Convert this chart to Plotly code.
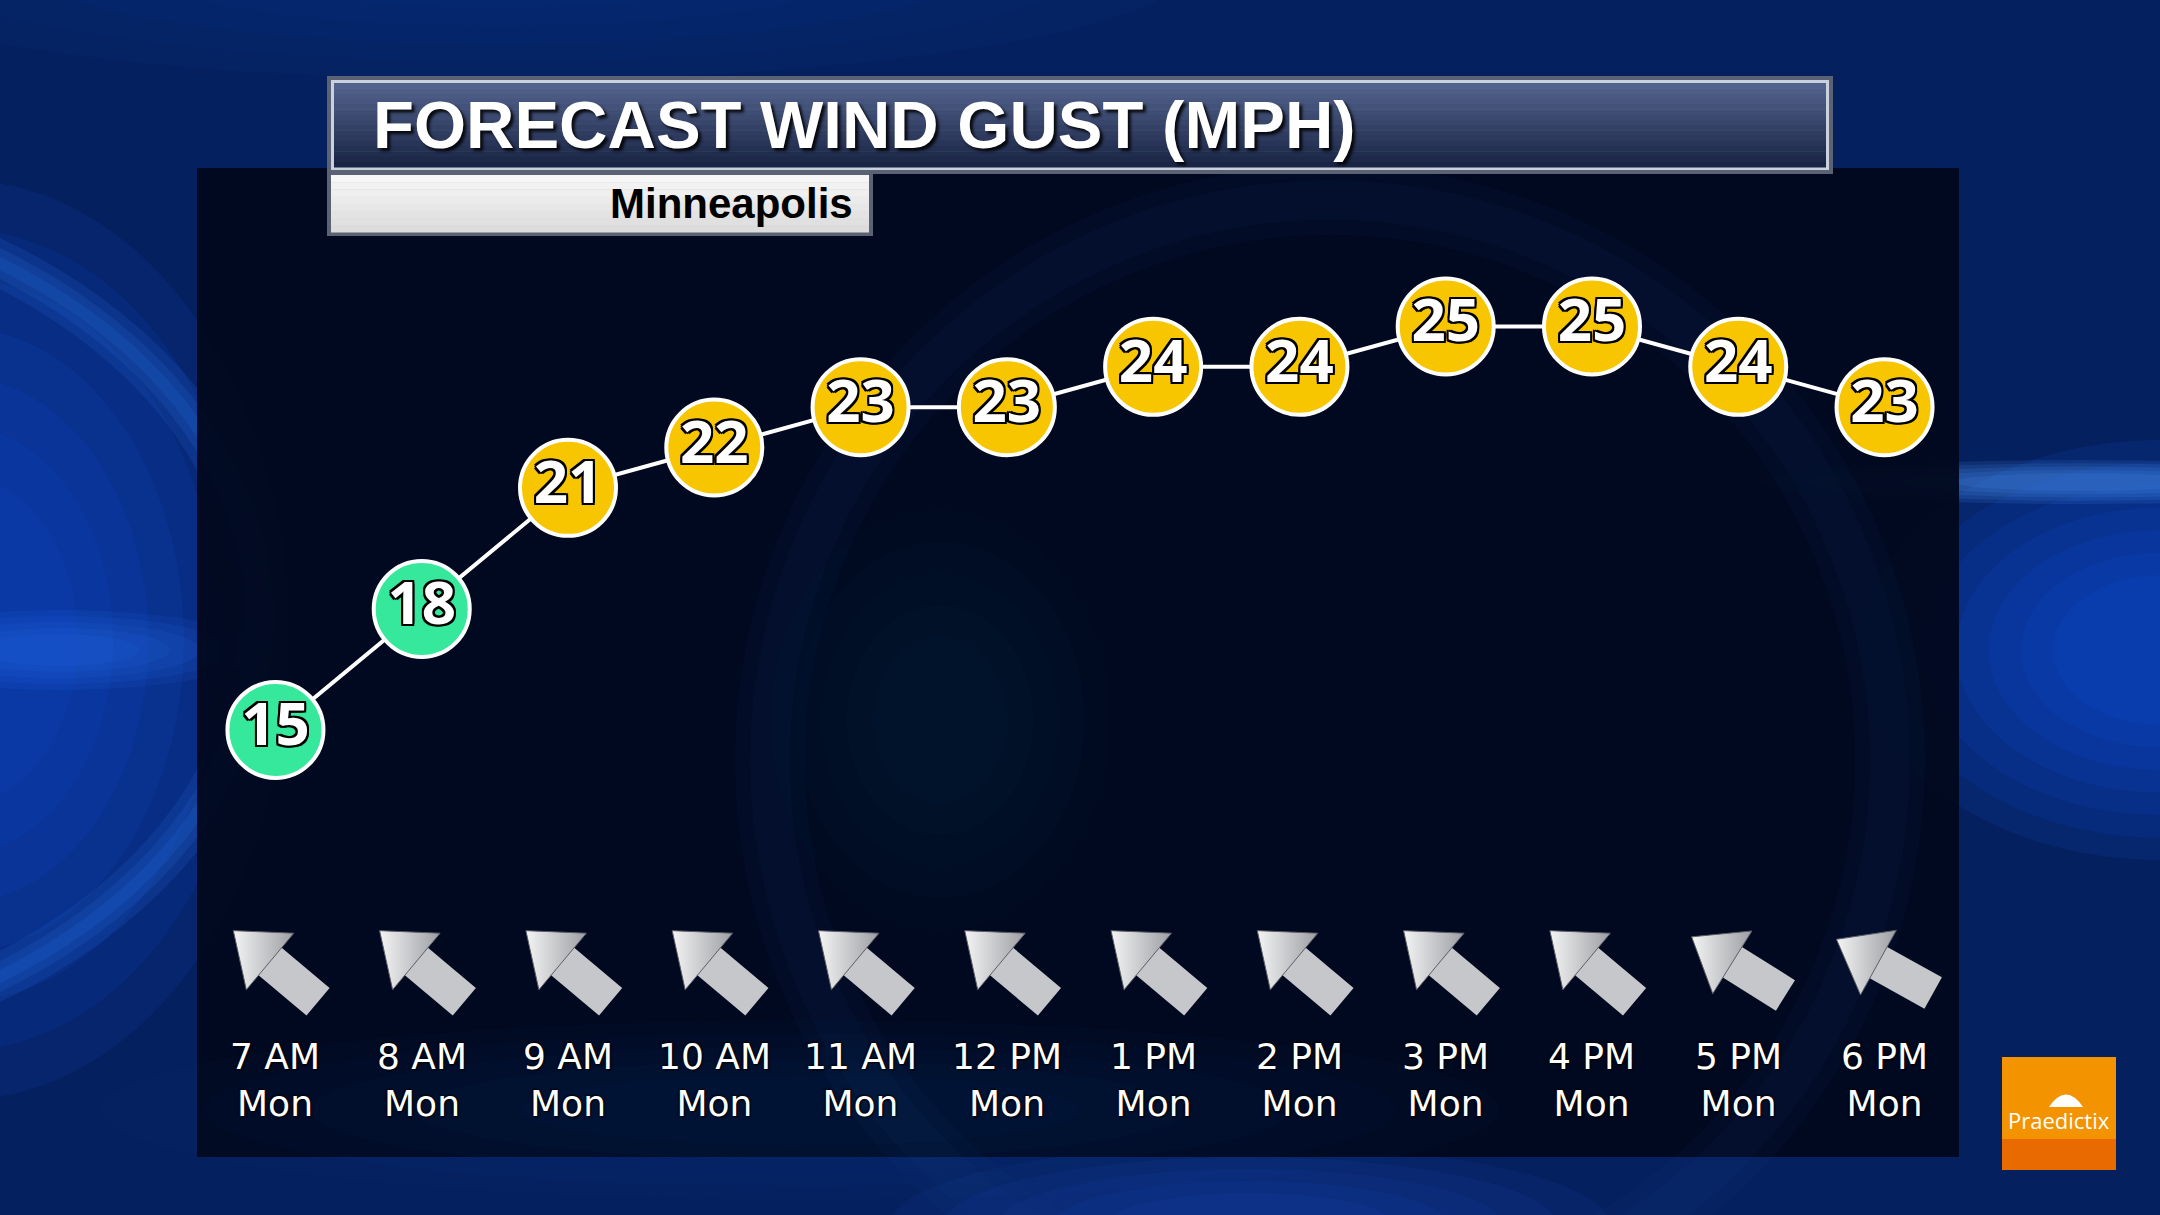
import math
import plotly.graph_objects as go

# ---------------- data ----------------
times = ["7 AM", "8 AM", "9 AM", "10 AM", "11 AM", "12 PM",
         "1 PM", "2 PM", "3 PM", "4 PM", "5 PM", "6 PM"]
days = ["Mon"] * 12
gusts = [15, 18, 21, 22, 23, 23, 24, 24, 25, 25, 24, 23]
wind_from_deg = [130, 130, 130, 130, 130, 130, 130, 130, 130, 130, 122, 119]
title_text = "FORECAST WIND GUST (MPH)"
location = "Minneapolis"
brand = "Praedictix"

# ---------------- layout helpers ----------------
W, H = 2160, 1215


def px(x):
    return x / W


def py(y):
    return 1 - y / H


def hex2rgb(h):
    h = h.lstrip("#")
    return tuple(int(h[i:i + 2], 16) for i in (0, 2, 4))


def mix(c1, c2, t):
    a, b = hex2rgb(c1), hex2rgb(c2)
    return "rgb(%d,%d,%d)" % tuple(round(a[i] + (b[i] - a[i]) * t) for i in range(3))


def rect(x0, y0, x1, y1, fill, layer="below"):
    return dict(type="rect", xref="paper", yref="paper",
                x0=px(x0), x1=px(x1), y0=py(y1), y1=py(y0),
                fillcolor=fill, layer=layer, line=dict(width=0))


def ellipse(cx, cy, rx, ry, fill, layer="below", line=None):
    d = dict(type="circle", xref="paper", yref="paper",
             x0=px(cx - rx), x1=px(cx + rx), y0=py(cy + ry), y1=py(cy - ry),
             fillcolor=fill, layer=layer, line=dict(width=0))
    if line:
        d["line"] = line
    return d


def glow(cx, cy, rx, ry, rgb, alpha=0.1, n=7):
    out = []
    for k in range(n):
        f = 1 - k / n * 0.75
        out.append(ellipse(cx, cy, rx * f, ry * f, "rgba(%d,%d,%d,%.3f)" % (rgb + (alpha,))))
    return out


def ring(cx, cy, rx, ry, rgb, widths=(46, 28, 12), alpha=0.14):
    return [ellipse(cx, cy, rx, ry, "rgba(0,0,0,0)",
                    line=dict(color="rgba(%d,%d,%d,%.3f)" % (rgb + (alpha,)), width=w))
            for w in widths]


def bands(x0, y0, x1, y1, c1, c2, n=14, layer="below"):
    out = []
    h = (y1 - y0) / n
    for k in range(n):
        out.append(rect(x0, y0 + k * h, x1, y0 + (k + 1) * h + 0.6,
                        mix(c1, c2, k / (n - 1)), layer))
    return out


x_idx = list(range(len(times)))
colors = ["#36E89B" if g < 20 else "#F7C600" for g in gusts]
toward = [(d + 180) % 360 for d in wind_from_deg]

fig = go.Figure()
fig.add_trace(go.Scatter(x=x_idx, y=gusts, mode="lines",
                         line=dict(color="white", width=4),
                         hoverinfo="skip", showlegend=False))
outline = ", ".join("%dpx %dpx 0 #000" % (a, b) for a, b in
                    [(2, 0), (-2, 0), (0, 2), (0, -2), (2, 2), (-2, -2), (2, -2), (-2, 2)])
fig.add_trace(go.Scatter(
    x=x_idx, y=gusts, mode="markers+text",
    marker=dict(size=96, color=colors, line=dict(color="white", width=4)),
    text=[str(g) for g in gusts], textposition="middle center",
    textfont=dict(family="Noto Sans, Open Sans, sans-serif", size=60,
                  color="white", weight="bold", shadow=outline),
    showlegend=False, hoverinfo="skip"))

# wind arrows: shaft (line symbol) + head (triangle), rotated by direction
arrow_row = [py(966)] * len(times)
fig.add_trace(go.Scatter(
    x=x_idx, y=arrow_row, yaxis="y2", mode="markers",
    marker=dict(symbol="line-ns", size=48, angle=toward, standoff=22,
                color="#c6c7ca", line=dict(color="#c6c7ca", width=36)),
    showlegend=False, hoverinfo="skip"))
fig.add_trace(go.Scatter(
    x=x_idx, y=arrow_row, yaxis="y2", mode="markers",
    marker=dict(symbol="triangle-down", size=64, angle=[t + 180 for t in toward],
                standoff=23, color="#f4f4f4",
                gradient=dict(type="horizontal", color="#9c9ea3"),
                line=dict(color="#5a5e66", width=1)),
    showlegend=False, hoverinfo="skip"))

# ---------------- shapes ----------------
shapes = []
# background glows (soft, layered)
shapes += glow(-40, 640, 330, 460, (15, 85, 225), alpha=0.11)
shapes += ring(-330, 620, 590, 430, (45, 130, 255), alpha=0.13)
shapes += glow(60, 650, 200, 40, (40, 120, 250), alpha=0.09, n=5)
shapes += glow(2160, 650, 300, 210, (15, 85, 230), alpha=0.12)
shapes += glow(2080, 482, 320, 22, (80, 155, 255), alpha=0.13, n=5)
shapes += glow(1250, 1225, 360, 80, (25, 80, 200), alpha=0.10, n=5)
shapes += glow(500, -40, 700, 120, (15, 60, 170), alpha=0.06, n=5)
# main dark panel
shapes.append(rect(197, 168, 1959, 1157, "rgba(1,8,28,0.95)"))
# faint swirls inside the panel
shapes += ring(1330, 760, 560, 560, (30, 75, 160), widths=(70, 40), alpha=0.05)
shapes += glow(940, 720, 170, 210, (20, 110, 120), alpha=0.025, n=5)
shapes += glow(800, 1110, 700, 90, (25, 70, 160), alpha=0.04, n=5)
# title box
shapes.append(rect(327, 76, 1833, 174, "#5b6273"))
shapes.append(rect(331, 80, 1829, 170, "#c9d1de"))
shapes += bands(334, 83, 1826, 167, "#52628c", "#1a2545", n=16)
# subtitle box
shapes.append(rect(327, 172, 873, 236, "#5b6273"))
shapes += bands(331, 175, 869, 232, "#f6f6f6", "#dcdcdc", n=8)
# logo
shapes.append(rect(2002, 1057, 2116, 1139, "#F39300"))
shapes.append(rect(2002, 1139, 2116, 1170, "#E96B00"))
shapes.append(dict(type="path", xref="paper", yref="paper",
                   path="M %f,%f Q %f,%f %f,%f Z" % (px(2049), py(1107), px(2066), py(1082),
                                                     px(2083), py(1107)),
                   fillcolor="white", line=dict(width=0), layer="below"))

# ---------------- annotations ----------------
ann = []
ann.append(dict(text=title_text, xref="paper", yref="paper", x=px(371), y=py(124),
                xanchor="left", yanchor="middle", showarrow=False,
                font=dict(family="Liberation Sans, Arial, sans-serif", size=67,
                          color="white", weight="bold",
                          shadow="3px 3px 3px rgba(0,0,0,0.85)")))
ann.append(dict(text=location, xref="paper", yref="paper", x=px(855), y=py(203),
                xanchor="right", yanchor="middle", showarrow=False,
                font=dict(family="Liberation Sans, Arial, sans-serif", size=42,
                          color="black", weight="bold")))
ann.append(dict(text=brand, xref="paper", yref="paper", x=px(2059), y=py(1120),
                xanchor="center", yanchor="middle", showarrow=False,
                font=dict(family="Open Sans, sans-serif", size=22, color="white")))

lab_shadow = "1px 1px 2px #000, -1px -1px 2px #000"
for i in x_idx:
    ann.append(dict(text=times[i] + "<br>" + days[i], x=i, xref="x", y=py(1080), yref="paper",
                    showarrow=False, xanchor="center", yanchor="middle",
                    font=dict(family="DejaVu Sans, Open Sans, sans-serif", size=36,
                              color="white", shadow=lab_shadow)))

fig.update_layout(
    width=W, height=H,
    margin=dict(l=0, r=0, t=0, b=0),
    paper_bgcolor="#05205e",
    plot_bgcolor="rgba(0,0,0,0)",
    xaxis=dict(range=[-1.883, 12.883], visible=False, fixedrange=True),
    yaxis=dict(range=[2.98, 33.09], visible=False, fixedrange=True),
    yaxis2=dict(range=[0, 1], visible=False, fixedrange=True, overlaying="y"),
    shapes=shapes,
    annotations=ann,
    showlegend=False,
)

fig.write_html("out.html", config={"displayModeBar": False},
               post_script="document.body.style.margin='0px';"
                           "document.body.style.overflow='hidden';")
